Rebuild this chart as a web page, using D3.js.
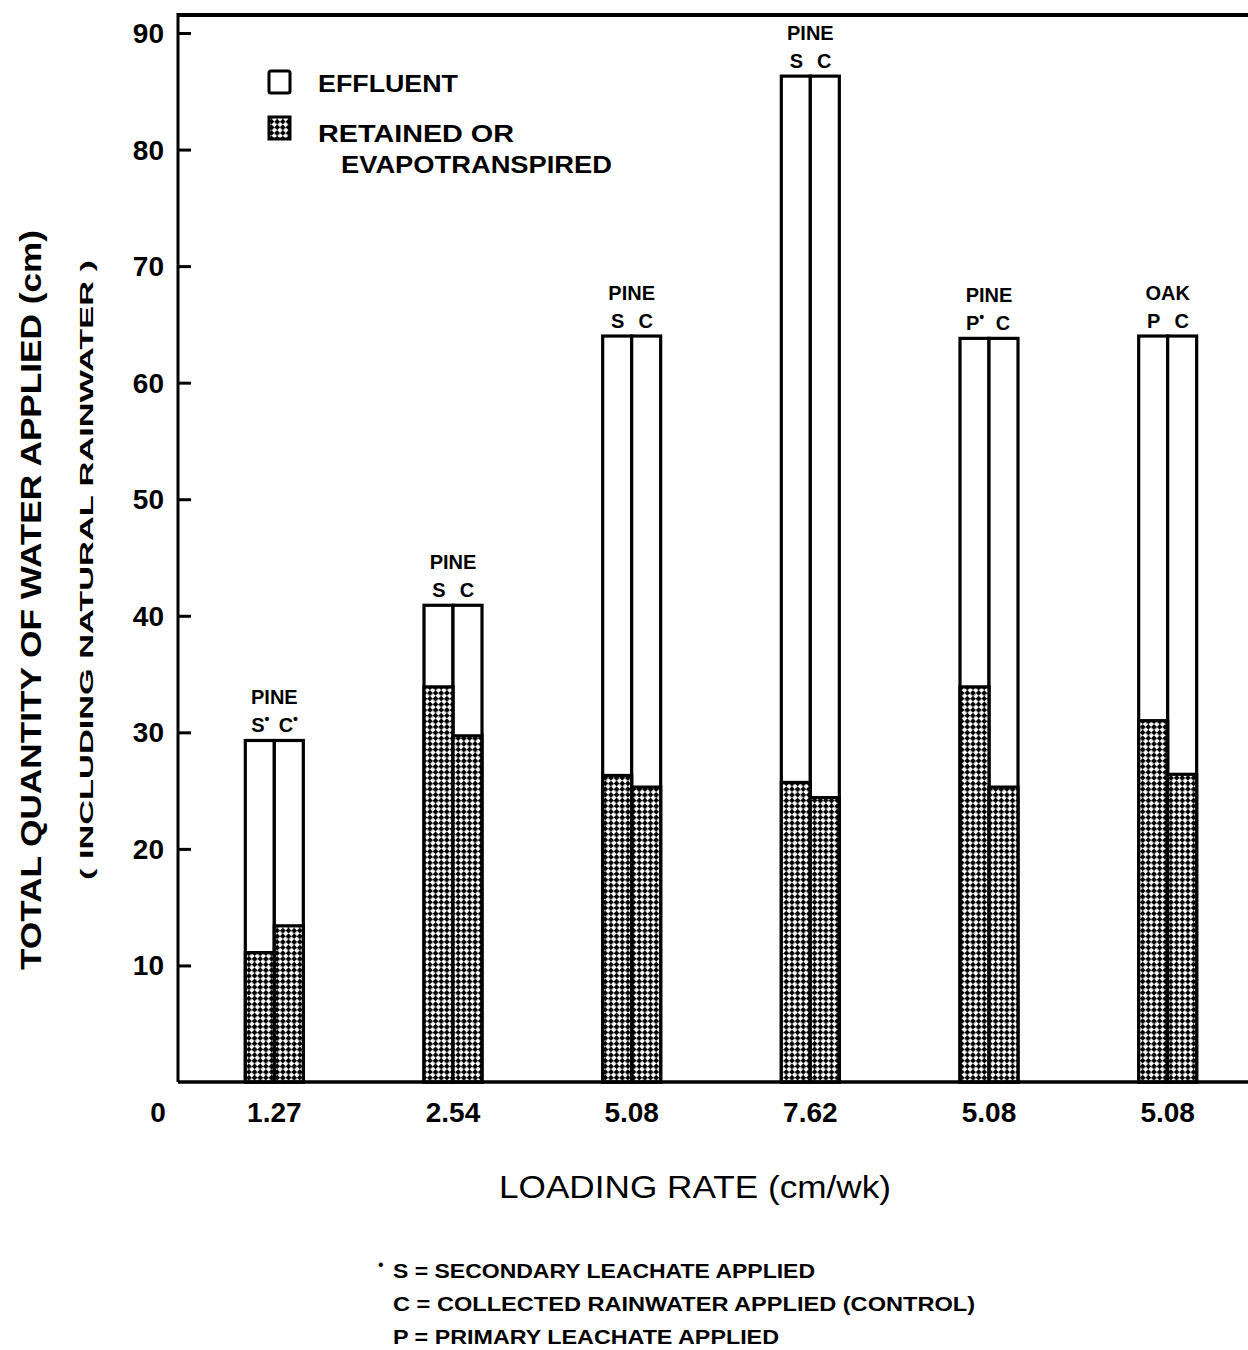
<!DOCTYPE html>
<html>
<head>
<meta charset="utf-8">
<title>Total quantity of water applied</title>
<script src="https://d3js.org/d3.v7.min.js"></script>
<style>
  body { margin: 0; background: #fff; }
  svg text { font-family: "Liberation Sans", Arial, sans-serif; fill: #000; }
  .tick-label { font-size: 28px; font-weight: bold; }
  .grp-label { font-size: 20px; font-weight: bold; }
  .legend text { font-size: 24px; font-weight: bold; }
  .note { font-size: 20px; font-weight: bold; }
</style>
</head>
<body>
<script>
// data
var loadingRates = ['1.27', '2.54', '5.08', '7.62', '5.08', '5.08'];
var species = ['PINE', 'PINE', 'PINE', 'PINE', 'PINE', 'OAK'];
var leftLetters = ['S', 'S', 'S', 'S', 'P', 'P'];
var rightLetters = ['C', 'C', 'C', 'C', 'C', 'C'];
var leftStar = [true, false, false, false, true, false];
var rightStar = [true, false, false, false, false, false];
var totalApplied = [29.3, 40.9, 64.0, 86.3, 63.8, 64.0];
var retainedLeft = [11.1, 33.9, 26.3, 25.7, 33.9, 31.0];
var retainedRight = [13.4, 29.7, 25.3, 24.4, 25.3, 26.4];
var yTicks = [10, 20, 30, 40, 50, 60, 70, 80, 90];
var footnotes = ['S = SECONDARY  LEACHATE  APPLIED',
                 'C = COLLECTED  RAINWATER  APPLIED (CONTROL)',
                 'P = PRIMARY  LEACHATE  APPLIED'];

var W = 1248, H = 1350;
var svg = d3.select('body').append('svg').attr('width', W).attr('height', H);

// stipple fill for the retained part
var defs = svg.append('defs');
var pat = defs.append('pattern')
  .attr('id', 'stipple')
  .attr('patternUnits', 'userSpaceOnUse')
  .attr('width', 8).attr('height', 8)
  .attr('patternTransform', 'rotate(45)');
pat.append('rect').attr('width', 8).attr('height', 8).attr('fill', '#fff');
pat.append('rect').attr('width', 4.3).attr('height', 4.3).attr('fill', '#000');
pat.append('rect').attr('x', 4).attr('y', 4).attr('width', 4.3).attr('height', 4.3).attr('fill', '#000');
pat.append('circle').attr('cx', 6).attr('cy', 2).attr('r', 1.3).attr('fill', '#fff');
pat.append('circle').attr('cx', 2).attr('cy', 6).attr('r', 1.3).attr('fill', '#fff');

var y = d3.scaleLinear().domain([0, 90]).range([1082, 33]);
var x = d3.scaleBand().domain(d3.range(loadingRates.length)).range([185, 1257]);
var inner = d3.scaleBand().domain([0, 1]).range([0, 58]);
var AXIS_X = 178;

var rows = loadingRates.map(function(r, i) {
  return { i: i, rate: r, sp: species[i], total: totalApplied[i],
    bars: [
      { side: 0, letter: leftLetters[i], star: leftStar[i], ret: retainedLeft[i], total: totalApplied[i] },
      { side: 1, letter: rightLetters[i], star: rightStar[i], ret: retainedRight[i], total: totalApplied[i] }
    ] };
});

function barX(i, side) { return x(i) + x.bandwidth() / 2 - 29 + inner(side); }

// bars
var g = svg.append('g');
rows.forEach(function(row) {
  var bg = g.append('g');
  bg.selectAll('rect.tot').data(row.bars).enter().append('rect')
    .attr('x', function(d) { return barX(row.i, d.side); })
    .attr('y', function(d) { return y(d.total); })
    .attr('width', inner.bandwidth())
    .attr('height', function(d) { return y(0) - y(d.total); })
    .attr('fill', '#fff').attr('stroke', '#000').attr('stroke-width', 3.2);
  bg.selectAll('rect.ret').data(row.bars).enter().append('rect')
    .attr('x', function(d) { return barX(row.i, d.side); })
    .attr('y', function(d) { return y(d.ret); })
    .attr('width', inner.bandwidth())
    .attr('height', function(d) { return y(0) - y(d.ret); })
    .attr('fill', 'url(#stipple)').attr('stroke', '#000').attr('stroke-width', 3.2);

  var cx = x(row.i) + x.bandwidth() / 2;
  g.append('text').attr('class', 'grp-label')
    .attr('x', cx).attr('y', y(row.total) - 36)
    .attr('text-anchor', 'middle').text(row.sp);
  row.bars.forEach(function(d) {
    var t = g.append('text').attr('class', 'grp-label')
      .attr('x', cx + (d.side === 0 ? -14 : 14)).attr('y', y(row.total) - 8)
      .attr('text-anchor', 'middle');
    t.append('tspan').text(d.letter);
    if (d.star) t.append('tspan').attr('dy', -8).attr('font-size', 14).text('•');
  });
});

// axes frame
svg.append('line').attr('x1', AXIS_X).attr('x2', W).attr('y1', 15).attr('y2', 15)
  .attr('stroke', '#000').attr('stroke-width', 4);
svg.append('line').attr('x1', AXIS_X).attr('x2', AXIS_X).attr('y1', 13).attr('y2', y(0))
  .attr('stroke', '#000').attr('stroke-width', 3);
svg.append('line').attr('x1', AXIS_X).attr('x2', W).attr('y1', y(0)).attr('y2', y(0))
  .attr('stroke', '#000').attr('stroke-width', 3.5);

// y axis ticks (inward) and labels
var yAxis = svg.append('g').attr('transform', 'translate(' + AXIS_X + ',0)')
  .call(d3.axisRight(y).tickValues(yTicks).tickSize(13).tickFormat(''));
yAxis.select('.domain').remove();
yAxis.selectAll('.tick line').attr('stroke', '#000').attr('stroke-width', 3);
svg.selectAll('text.ylab').data(yTicks).enter().append('text')
  .attr('class', 'tick-label ylab')
  .attr('x', 164).attr('y', function(d) { return y(d) + 10; })
  .attr('text-anchor', 'end').text(function(d) { return d; });
svg.append('text').attr('class', 'tick-label').attr('x', 158).attr('y', 1122)
  .attr('text-anchor', 'middle').text('0');

// x category labels
var xAxis = svg.append('g').attr('transform', 'translate(0,' + y(0) + ')')
  .call(d3.axisBottom(x).tickSize(0).tickFormat(function(i) { return loadingRates[i]; }));
xAxis.select('.domain').remove();
xAxis.selectAll('text').attr('dy', 0).attr('y', 40)
  .style('font-family', '"Liberation Sans", Arial, sans-serif').style('font-size', '28px')
  .style('font-weight', 'bold').attr('fill', '#000');

// axis titles
svg.append('text').attr('x', 695).attr('y', 1198).attr('text-anchor', 'middle')
  .attr('font-size', 31).attr('textLength', 392).attr('lengthAdjust', 'spacingAndGlyphs')
  .text('LOADING RATE (cm/wk)');
svg.append('text')
  .attr('transform', 'translate(41,600) rotate(-90)')
  .attr('text-anchor', 'middle').attr('font-size', 30).attr('font-weight', 'bold')
  .attr('textLength', 740).attr('lengthAdjust', 'spacingAndGlyphs')
  .text('TOTAL QUANTITY OF WATER APPLIED (cm)');
svg.append('text')
  .attr('transform', 'translate(93,570) rotate(-90)')
  .attr('text-anchor', 'middle').attr('font-size', 18).attr('font-weight', 'bold')
  .attr('textLength', 620).attr('lengthAdjust', 'spacingAndGlyphs')
  .text('( INCLUDING  NATURAL  RAINWATER )');

// legend
var leg = svg.append('g').attr('class', 'legend');
leg.append('rect').attr('x', 269).attr('y', 71).attr('width', 21).attr('height', 22).attr('rx', 2)
  .attr('fill', '#fff').attr('stroke', '#000').attr('stroke-width', 3);
leg.append('rect').attr('x', 269).attr('y', 117).attr('width', 21).attr('height', 22)
  .attr('fill', 'url(#stipple)').attr('stroke', '#000').attr('stroke-width', 3);
leg.append('text').attr('x', 318).attr('y', 92)
  .attr('textLength', 140).attr('lengthAdjust', 'spacingAndGlyphs').text('EFFLUENT');
leg.append('text').attr('x', 318).attr('y', 142)
  .attr('textLength', 196).attr('lengthAdjust', 'spacingAndGlyphs').text('RETAINED  OR');
leg.append('text').attr('x', 341).attr('y', 173)
  .attr('textLength', 271).attr('lengthAdjust', 'spacingAndGlyphs').text('EVAPOTRANSPIRED');

// footnotes
svg.append('text').attr('x', 378).attr('y', 1270).attr('font-size', 16).text('•');
svg.selectAll('text.note').data(footnotes).enter().append('text')
  .attr('class', 'note').attr('x', 393)
  .attr('y', function(d, i) { return 1278 + i * 33; })
  .attr('textLength', function(d, i) { return [422, 582, 386][i]; })
  .attr('lengthAdjust', 'spacingAndGlyphs')
  .text(function(d) { return d; });
</script>
</body>
</html>
